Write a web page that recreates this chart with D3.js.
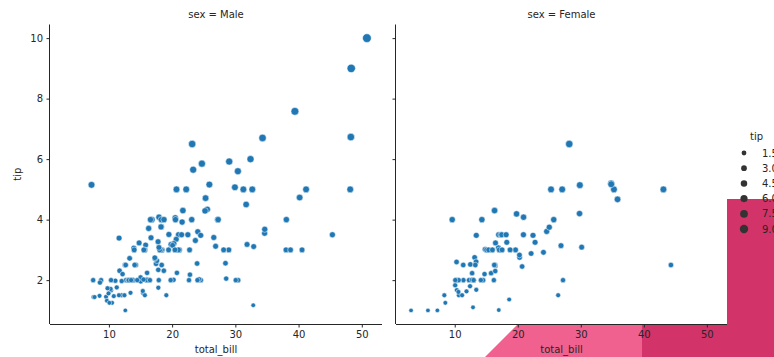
<!DOCTYPE html>
<html>
<head>
<meta charset="utf-8">
<script src="https://cdn.jsdelivr.net/npm/d3@7"></script>
<style>
  body { margin: 0; background: #fff; }
  svg { display: block; font-family: "DejaVu Sans", sans-serif; }
</style>
</head>
<body>
<div id="chart"></div>
<script>
// tips dataset, split by sex (total_bill, tip)
const maleBill = [10.34,21.01,23.68,25.29,8.77,26.88,15.04,14.78,10.27,15.42,18.43,21.58,16.29,20.65,17.92,39.42,19.82,17.81,13.37,12.69,21.7,9.55,18.35,17.78,24.06,16.31,18.69,31.27,16.04,17.46,13.94,9.68,30.4,18.29,22.23,32.4,28.55,18.04,12.54,9.94,25.56,19.49,38.01,11.24,48.27,20.29,13.81,11.02,18.29,17.59,20.08,20.23,15.01,12.02,10.51,17.92,27.2,22.76,17.29,19.44,16.66,32.68,15.98,13.03,18.28,24.71,21.16,28.97,22.49,40.17,27.28,12.03,21.01,12.46,15.36,20.49,25.21,18.24,14.0,38.07,23.95,29.93,11.69,14.26,15.95,8.52,22.82,19.08,16.0,34.3,41.19,9.78,7.51,14.07,13.13,17.26,24.55,19.77,48.17,16.49,21.5,12.66,13.81,24.52,20.76,31.71,50.81,15.81,7.25,31.85,16.82,32.9,17.89,14.48,34.63,34.65,23.33,45.35,23.17,40.55,20.69,30.46,23.1,15.69,28.44,15.48,16.58,7.56,10.34,13.51,18.71,20.53,26.59,38.73,24.27,30.06,25.89,48.33,28.15,11.59,7.74,12.16,8.58,13.42,20.45,13.28,24.01,15.69,11.61,10.77,15.53,10.07,12.6,32.83,29.03,22.67,17.82];
const maleTip = [1.66,3.5,3.31,4.71,2.0,3.12,1.96,3.23,1.71,1.57,3.0,3.92,3.71,3.35,4.08,7.58,3.18,2.34,2.0,2.0,4.3,1.45,2.5,3.27,3.6,2.0,2.31,5.0,2.24,2.54,3.06,1.32,5.6,3.0,5.0,6.0,2.05,3.0,2.5,1.56,4.34,3.51,3.0,1.76,6.73,3.21,2.0,1.98,3.76,2.64,3.15,2.01,2.09,1.97,1.25,3.08,4.0,3.0,2.71,3.0,3.4,5.0,2.03,2.0,4.0,5.85,3.0,3.0,3.5,4.73,4.0,1.5,3.0,1.5,1.64,4.06,4.29,3.76,3.0,4.0,2.55,5.07,2.31,2.5,2.0,1.48,2.18,1.5,2.0,6.7,5.0,1.73,2.0,2.5,2.0,2.74,2.0,2.0,5.0,2.0,3.5,2.5,2.0,3.48,2.24,4.5,10.0,3.16,5.15,3.18,4.0,3.11,2.0,2.0,3.55,3.68,5.65,3.5,6.5,3.0,5.0,2.0,4.0,1.5,2.56,2.02,4.0,1.44,2.0,2.0,4.0,4.0,3.41,3.0,2.03,2.0,5.16,9.0,3.0,1.5,1.44,2.2,1.92,1.58,3.0,2.72,2.0,3.0,3.39,1.47,3.0,1.25,1.0,1.17,5.92,2.0,1.75];
const femaleBill = [16.99,24.59,35.26,14.83,10.33,16.97,20.29,15.77,19.65,15.06,20.69,16.93,10.29,34.81,26.41,16.45,3.07,17.07,26.86,25.28,14.73,10.07,34.83,5.75,16.32,22.75,11.35,15.38,44.3,22.42,20.92,14.31,7.25,25.71,17.31,10.65,12.43,24.08,13.42,12.48,29.8,14.52,11.38,20.27,11.17,12.26,18.26,8.51,10.33,14.15,13.16,17.47,27.05,16.43,8.35,18.64,11.87,29.85,25.0,13.39,16.21,17.51,10.59,10.63,9.6,20.9,18.15,19.81,43.11,13.0,12.74,13.0,16.4,16.47,12.76,13.27,28.17,12.9,30.14,13.42,15.98,16.27,10.09,22.12,35.83,27.18,18.78];
const femaleTip = [1.01,3.61,5.0,3.02,1.67,3.5,2.75,2.23,3.0,3.0,2.45,3.07,2.6,5.2,1.5,2.47,1.0,3.0,3.14,5.0,2.2,1.83,5.17,1.0,4.3,3.25,2.5,3.0,2.5,3.48,4.08,4.0,1.0,4.0,3.5,1.5,1.8,2.92,1.68,2.52,4.2,2.0,2.0,2.83,1.5,2.0,3.25,1.25,2.0,2.0,2.75,3.5,5.0,2.3,1.5,1.36,1.63,5.14,3.75,2.61,2.0,3.0,1.61,2.0,4.0,3.5,3.5,4.19,5.0,2.0,2.01,2.0,2.5,3.23,2.23,2.5,6.5,1.1,3.09,3.48,3.0,2.5,2.0,2.88,4.67,2.0,3.0];

const panels = ["Male", "Female"];
const xTicks = [10, 20, 30, 40, 50];
const yTicks = [2, 4, 6, 8, 10];
const legendTips = [1.5, 3.0, 4.5, 6.0, 7.5, 9.0];

const width = 774, height = 357;
const plotTop = 24.5, plotBottom = 324;
const panelX = [[50, 382], [396, 727]];
const ink = "#262626";

const svg = d3.select("#chart").append("svg")
  .attr("width", width).attr("height", height);

// background shapes behind the axes
svg.append("polygon")
  .attr("points", [[485, 357], [640, 202], [642, 202], [642, 357]].map(p => p.join(",")).join(" "))
  .attr("fill", "#f0618f");
svg.append("polygon")
  .attr("points", [[642, 199], [774, 199], [774, 357], [642, 357]].map(p => p.join(",")).join(" "))
  .attr("fill", "#d23368");

const allTip = maleTip.concat(femaleTip);
const allBill = maleBill.concat(femaleBill);
const [bMin, bMax] = d3.extent(allBill);
const [tMin, tMax] = d3.extent(allTip);
const bPad = (bMax - bMin) * 0.05, tPad = (tMax - tMin) * 0.05;

const y = d3.scaleLinear().domain([tMin - tPad, tMax + tPad]).range([plotBottom, plotTop]);
// marker area (px^2) linear in tip, seaborn default 18..72
const area = d3.scaleLinear().domain([tMin, tMax]).range([20, 76]);
const radius = t => Math.sqrt(area(t)) / 2;

const series = {Male: [maleBill, maleTip], Female: [femaleBill, femaleTip]};

panels.forEach((sex, i) => {
  const [x0, x1] = panelX[i];
  const x = d3.scaleLinear().domain([bMin - bPad, bMax + bPad]).range([x0, x1]);
  const g = svg.append("g");

  g.append("rect")
    .attr("x", x0).attr("y", plotTop).attr("width", x1 - x0).attr("height", plotBottom - plotTop)
    .attr("fill", "#fff");

  const [bills, tips] = series[sex];
  g.append("g")
    .selectAll("circle")
    .data(d3.range(bills.length))
    .join("circle")
    .attr("cx", j => x(bills[j]))
    .attr("cy", j => y(tips[j]))
    .attr("r", j => radius(tips[j]))
    .attr("fill", "#1f77b4")
    .attr("stroke", "#fff")
    .attr("stroke-width", 0.5);

  // x axis
  g.append("g")
    .attr("transform", `translate(0,${plotBottom})`)
    .call(d3.axisBottom(x).tickValues(xTicks).tickSize(3.5).tickPadding(3.5).tickFormat(d3.format("d")))
    .call(a => a.select(".domain").attr("stroke", ink).attr("stroke-width", 1).attr("d", `M${x0},0.5H${x1}`))
    .call(a => a.selectAll(".tick line").attr("stroke", ink))
    .call(a => a.selectAll(".tick text").attr("fill", ink).attr("font-size", 10)
      .attr("font-family", "DejaVu Sans"));

  // y axis
  g.append("g")
    .attr("transform", `translate(${x0},0)`)
    .call(d3.axisLeft(y).tickValues(yTicks).tickSize(3.5).tickPadding(3.5)
      .tickFormat(i === 0 ? d3.format("d") : () => ""))
    .call(a => a.select(".domain").attr("stroke", ink).attr("stroke-width", 1).attr("d", `M-0.5,${plotTop}V${plotBottom}`))
    .call(a => a.selectAll(".tick line").attr("stroke", ink))
    .call(a => a.selectAll(".tick text").attr("fill", ink).attr("font-size", 10)
      .attr("font-family", "DejaVu Sans"));

  g.append("text")
    .attr("x", (x0 + x1) / 2).attr("y", 18)
    .attr("text-anchor", "middle").attr("font-size", 10).attr("fill", ink)
    .text(`sex = ${sex}`);

  g.append("text")
    .attr("x", (x0 + x1) / 2).attr("y", 353)
    .attr("text-anchor", "middle").attr("font-size", 10).attr("fill", ink)
    .text("total_bill");

  if (i === 0) {
    g.append("text")
      .attr("transform", `translate(21,${(plotTop + plotBottom) / 2}) rotate(-90)`)
      .attr("text-anchor", "middle").attr("font-size", 10).attr("fill", ink)
      .text("tip");
  }
});

// size legend
const legend = svg.append("g");
legend.append("text")
  .attr("x", 750).attr("y", 140)
  .attr("font-size", 10).attr("fill", ink)
  .text("tip");
const item = legend.selectAll("g.item")
  .data(legendTips)
  .join("g")
  .attr("class", "item")
  .attr("transform", (d, i) => `translate(744,${153 + i * 15.2})`);
item.append("circle")
  .attr("r", d => radius(d))
  .attr("fill", "#333");
item.append("text")
  .attr("x", 18).attr("dy", "0.35em")
  .attr("font-size", 10).attr("fill", ink)
  .text(d => d3.format(".1f")(d));
</script>
</body>
</html>
